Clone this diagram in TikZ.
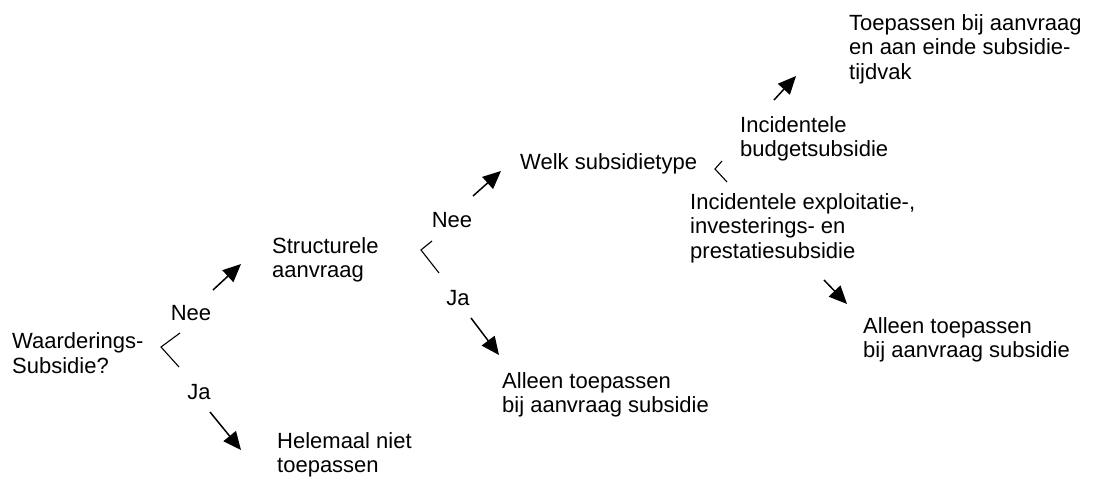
\documentclass[tikz,border=0pt]{standalone}
\usepackage{fontspec}
\setmainfont{Liberation Sans}
\usetikzlibrary{arrows.meta,positioning}
\tikzset{
  txt/.style={font=\fontsize{22}{24.5}\selectfont, align=left, inner sep=0pt, anchor=west},
  choice/.style={font=\fontsize{22}{24.5}\selectfont, inner sep=0pt},
  arr/.style={-{Triangle[length=18pt,width=16pt]}, line width=1.5pt},
  brk/.style={line width=1.1pt}
}

\begin{document}
\begin{tikzpicture}[x=1pt,y=-1pt]
  \useasboundingbox (0,0) rectangle (1095,484);

  % Waarderingssubsidie
  \node[txt] (waard) at (12,353) {Waarderings-\\Subsidie?};
  \node[choice] (nee1) at (191,313) {Nee};
  \node[choice] (ja1) at (199,392) {Ja};
  \coordinate (b1a) at (180,333);
  \coordinate (b1b) at (161,347);
  \coordinate (b1c) at (179,367);
  \draw[brk] (b1a) -- (b1b) -- (b1c);
  \coordinate (a1s) at (213,290);
  \coordinate (a1e) at (241,264);
  \draw[arr] (a1s) -- (a1e);
  \coordinate (a2s) at (210,412);
  \coordinate (a2e) at (241,450);
  \draw[arr] (a2s) -- (a2e);
  \node[txt] (helemaal) at (277,455) {Helemaal niet\\toepassen};

  % Structurele aanvraag
  \node[txt] (struct) at (272,260) {Structurele\\aanvraag};
  \node[choice] (nee2) at (452,220) {Nee};
  \node[choice] (ja2) at (458,298) {Ja};
  \coordinate (b2a) at (432,241);
  \coordinate (b2b) at (421,250);
  \coordinate (b2c) at (439,273);
  \draw[brk] (b2a) -- (b2b) -- (b2c);
  \coordinate (a3s) at (473,196);
  \coordinate (a3e) at (501,171);
  \draw[arr] (a3s) -- (a3e);
  \coordinate (a4s) at (471,318);
  \coordinate (a4e) at (499,355);
  \draw[arr] (a4s) -- (a4e);
  \node[txt] (alleen1) at (502,395) {Alleen toepassen\\bij aanvraag subsidie};

  % Welk subsidietype
  \node[txt] (welk) at (520,164) {Welk subsidietype};
  \coordinate (b3a) at (722,161);
  \coordinate (b3b) at (715,169);
  \coordinate (b3c) at (727,182);
  \draw[brk] (b3a) -- (b3b) -- (b3c);
  \node[txt] (budget) at (740,139) {Incidentele\\budgetsubsidie};
  \coordinate (a5s) at (774,100);
  \coordinate (a5e) at (796,76);
  \draw[arr] (a5s) -- (a5e);
  \node[txt] (eind) at (849,49) {Toepassen bij aanvraag\\en aan einde subsidie-\\tijdvak};
  \node[txt] (exploit) at (690,228) {Incidentele exploitatie-,\\investerings- en\\prestatiesubsidie};
  \coordinate (a6s) at (824,280);
  \coordinate (a6e) at (847,304);
  \draw[arr] (a6s) -- (a6e);
  \node[txt] (alleen2) at (863,340) {Alleen toepassen\\bij aanvraag subsidie};
\end{tikzpicture}
\end{document}
